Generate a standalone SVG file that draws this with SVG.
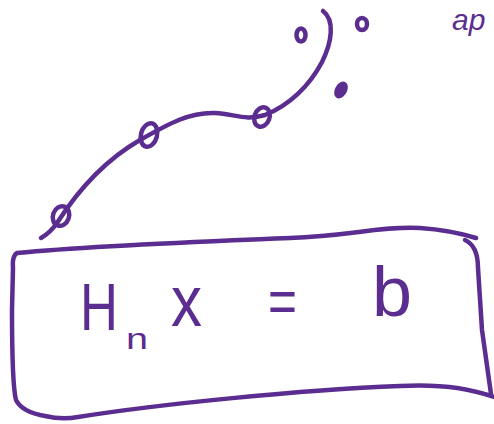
<svg xmlns="http://www.w3.org/2000/svg" width="494" height="424" viewBox="0 0 494 424">
<style>
.s{fill:none;stroke:#5b2d91;stroke-width:4.5;stroke-linecap:round;stroke-linejoin:round}
.f{fill:#5b2d91}
.t{fill:#5b2d91;font-family:"Liberation Sans",Arial,sans-serif}
</style>
<rect width="494" height="424" fill="#fff"/>
<g id="curve">
<path class="s" d="M41,238 Q50,233 57,223 C75,195 100,163 140,140 C170,123 190,112 215,113 C235,114 245,121 265,115 C290,105 310,85 322,62 C332,42 335,20 323,11"/>
<ellipse class="s" cx="61" cy="216" rx="8" ry="10" transform="rotate(20 61 216)"/>
<ellipse class="s" cx="149" cy="135" rx="8" ry="12" transform="rotate(15 149 135)"/>
<ellipse class="s" cx="262" cy="117" rx="7.5" ry="10" transform="rotate(20 262 117)"/>
</g>
<g id="dots">
<ellipse class="s" cx="301" cy="35" rx="4.5" ry="6.5"/>
<ellipse class="s" cx="362" cy="24" rx="5" ry="6"/>
<ellipse class="f" cx="341" cy="90" rx="6" ry="9" transform="rotate(30 341 90)"/>
</g>
<g id="box">
<path class="s" d="M476,238 Q450,230 420,228 C380,226 350,236 290,238 C220,241 100,245 17,253 Q12,256 13,268 L12,310 Q12,385 16,400 Q22,412 45,416 Q62,420 78,417 C160,404 300,390 400,386 Q455,383 494,397"/>
<path class="s" d="M465,240 Q478,246 478,268 L482,330 L491,394"/>
</g>
<g id="equation">
<text class="t" x="80" y="330" font-size="66" textLength="38" lengthAdjust="spacingAndGlyphs">H</text>
<text class="t" x="126" y="349" font-size="30" textLength="22" lengthAdjust="spacingAndGlyphs">n</text>
<text class="t" x="171" y="326" font-size="72" textLength="31" lengthAdjust="spacingAndGlyphs">x</text>
<text class="t" x="268" y="322" font-size="62" textLength="29" lengthAdjust="spacingAndGlyphs">=</text>
<text class="t" x="372" y="316" font-size="70" textLength="40" lengthAdjust="spacingAndGlyphs">b</text>
</g>
<g id="corner-text">
<text class="t" x="452" y="30" font-size="30" font-style="italic">ap</text>
</g>
</svg>
